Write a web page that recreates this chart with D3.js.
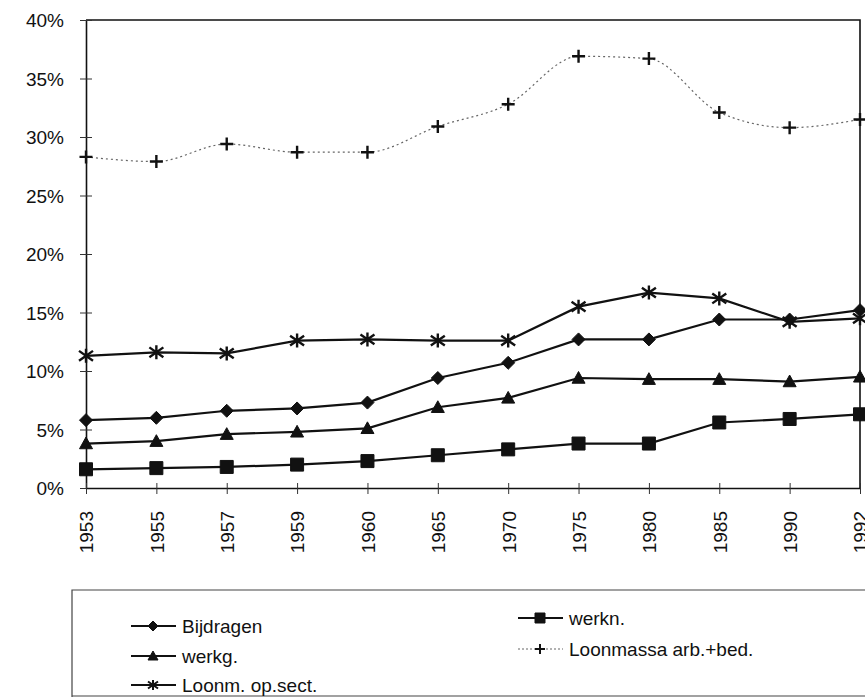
<!DOCTYPE html>
<html>
<head>
<meta charset="utf-8">
<script src="https://cdn.jsdelivr.net/npm/d3@7"></script>
<style>
  body { margin: 0; background: #fff; }
  svg { display: block; font-family: "Liberation Sans", Arial, sans-serif; }
</style>
</head>
<body>
<svg width="865" height="697"></svg>
<script>
/*
Data (percent)
*/
var years = ["1953", "1955", "1957", "1959", "1960", "1965", "1970", "1975", "1980", "1985", "1990", "1992"];
var bijdragen   = [5.8, 6.0, 6.6, 6.8, 7.3, 9.4, 10.7, 12.7, 12.7, 14.4, 14.4, 15.2];
var werkg       = [3.8, 4.0, 4.6, 4.8, 5.1, 6.9, 7.7, 9.4, 9.3, 9.3, 9.1, 9.5];
var loonmOpSect = [11.3, 11.6, 11.5, 12.6, 12.7, 12.6, 12.6, 15.5, 16.7, 16.2, 14.2, 14.5];
var werkn       = [1.6, 1.7, 1.8, 2.0, 2.3, 2.8, 3.3, 3.8, 3.8, 5.6, 5.9, 6.3];
var loonmassa   = [28.3, 27.9, 29.4, 28.7, 28.7, 30.9, 32.8, 36.9, 36.7, 32.1, 30.8, 31.5];
var yTicks = [0, 5, 10, 15, 20, 25, 30, 35, 40];

var seriesNames = ["Bijdragen", "werkn.", "werkg.", "Loonmassa arb.+bed.", "Loonm. op.sect."];
var seriesValues = [bijdragen, werkn, werkg, loonmassa, loonmOpSect];
var seriesMarkers = ["diamond", "square", "triangle", "plus", "star"];

/*
SVG / plot area
*/
var svg = d3.select("svg"),
    plot = {left: 86, right: 860, top: 20, bottom: 488};

var xScale = d3.scalePoint().domain(years).range([plot.left, plot.right]),
    yScale = d3.scaleLinear().domain([0, 40]).range([plot.bottom, plot.top]);

var series = seriesNames.map(function(name, i) {
    return {
        id: name,
        marker: seriesMarkers[i],
        dotted: name === "Loonmassa arb.+bed.",
        values: years.map(function(y, j) { return {year: y, value: seriesValues[i][j]}; })
    };
});

/*
Frame (top + right border), then axes with crossing ticks
*/
svg.append("path")
    .attr("d", "M" + plot.left + "," + plot.top + "H" + plot.right + "V" + plot.bottom)
    .attr("fill", "none")
    .attr("stroke", "#111")
    .attr("stroke-width", 1.6);

var yAxis = svg.append("g")
    .attr("transform", "translate(" + plot.left + ",0)")
    .call(d3.axisLeft(yScale).tickValues(yTicks).tickSize(6).tickSizeOuter(0)
        .tickFormat(function(d) { return d + "%"; }));
yAxis.select(".domain").attr("stroke", "#111").attr("stroke-width", 1.6);
yAxis.selectAll(".tick line").attr("x2", 6).attr("x1", -6).attr("stroke", "#333");
yAxis.selectAll(".tick text")
    .attr("x", -22)
    .attr("dy", "0.36em")
    .style("font-size", "19px")
    .attr("fill", "#111");

var xAxis = svg.append("g")
    .attr("transform", "translate(0," + plot.bottom + ")")
    .call(d3.axisBottom(xScale).tickSize(6).tickSizeOuter(0));
xAxis.select(".domain").attr("stroke", "#111").attr("stroke-width", 1.6);
xAxis.selectAll(".tick line").attr("y1", -5).attr("y2", 6).attr("stroke", "#333");
xAxis.selectAll(".tick text")
    .attr("transform", "rotate(-90)")
    .attr("x", -23)
    .attr("y", 0)
    .attr("dy", "0.36em")
    .style("text-anchor", "end")
    .style("font-size", "19px")
    .attr("fill", "#111");

/*
Marker shapes, drawn around (0,0)
*/
function markerPath(type, s) {
    var h = s / 2;
    if (type === "diamond") return "M0," + (-h) + "L" + h + ",0L0," + h + "L" + (-h) + ",0Z";
    if (type === "square") return "M" + (-h) + "," + (-h) + "H" + h + "V" + h + "H" + (-h) + "Z";
    if (type === "triangle") return "M0," + (-h) + "L" + h + "," + (h * 0.8) + "H" + (-h) + "Z";
    if (type === "plus") return "M" + (-h) + ",0H" + h + "M0," + (-h) + "V" + h;
    // star: an x with a vertical bar through it
    return "M" + (-h) + "," + (-h * 0.7) + "L" + h + "," + (h * 0.7) +
           "M" + (-h) + "," + (h * 0.7) + "L" + h + "," + (-h * 0.7) +
           "M0," + (-h) + "V" + h;
}
function isStroked(type) { return type === "plus" || type === "star"; }

var line = d3.line()
    .x(function(d) { return xScale(d.year); })
    .y(function(d) { return yScale(d.value); });

var smooth = d3.line()
    .curve(d3.curveMonotoneX)
    .x(function(d) { return xScale(d.year); })
    .y(function(d) { return yScale(d.value); });

var group = svg.selectAll(".series")
    .data(series)
    .enter().append("g")
    .attr("class", "series");

group.append("path")
    .attr("d", function(d) { return d.dotted ? smooth(d.values) : line(d.values); })
    .attr("fill", "none")
    .attr("stroke", function(d) { return d.dotted ? "#666" : "#111"; })
    .attr("stroke-width", function(d) { return d.dotted ? 1.2 : 2.2; })
    .attr("stroke-dasharray", function(d) { return d.dotted ? "2,3" : null; });

group.selectAll(".marker")
    .data(function(d) { return d.values.map(function(v) { return {m: d.marker, year: v.year, value: v.value}; }); })
    .enter().append("path")
    .attr("class", "marker")
    .attr("transform", function(d) { return "translate(" + xScale(d.year) + "," + yScale(d.value) + ")"; })
    .attr("d", function(d) { return markerPath(d.m, d.m === "star" ? 14 : 13); })
    .attr("fill", function(d) { return isStroked(d.m) ? "none" : "#111"; })
    .attr("stroke", "#111")
    .attr("stroke-width", function(d) { return isStroked(d.m) ? 2.4 : 1; });

/*
Legend: two columns inside a box that runs off the page
*/
var legend = svg.append("g");
legend.append("path")
    .attr("d", "M72,697V590H865M72,696H865")
    .attr("fill", "none")
    .attr("stroke", "#444")
    .attr("stroke-width", 1.2);

var legendPos = [
    {x: 131, y: 626}, {x: 518, y: 618},
    {x: 131, y: 656}, {x: 518, y: 649},
    {x: 131, y: 685}
];

var item = legend.selectAll(".item")
    .data(series)
    .enter().append("g")
    .attr("class", "item")
    .attr("transform", function(d, i) { return "translate(" + legendPos[i].x + "," + legendPos[i].y + ")"; });

item.append("line")
    .attr("x1", 0).attr("x2", 45)
    .attr("stroke", function(d) { return d.dotted ? "#666" : "#111"; })
    .attr("stroke-width", function(d) { return d.dotted ? 1.2 : 2; })
    .attr("stroke-dasharray", function(d) { return d.dotted ? "2,2" : null; });

item.append("path")
    .attr("transform", "translate(22,0)")
    .attr("d", function(d) { return markerPath(d.marker, 10); })
    .attr("fill", function(d) { return isStroked(d.marker) ? "none" : "#111"; })
    .attr("stroke", "#111")
    .attr("stroke-width", function(d) { return isStroked(d.marker) ? 2 : 1; });

item.append("text")
    .attr("x", 51)
    .attr("dy", "0.36em")
    .style("font-size", "19px")
    .attr("fill", "#111")
    .text(function(d) { return d.id; });
</script>
</body>
</html>
